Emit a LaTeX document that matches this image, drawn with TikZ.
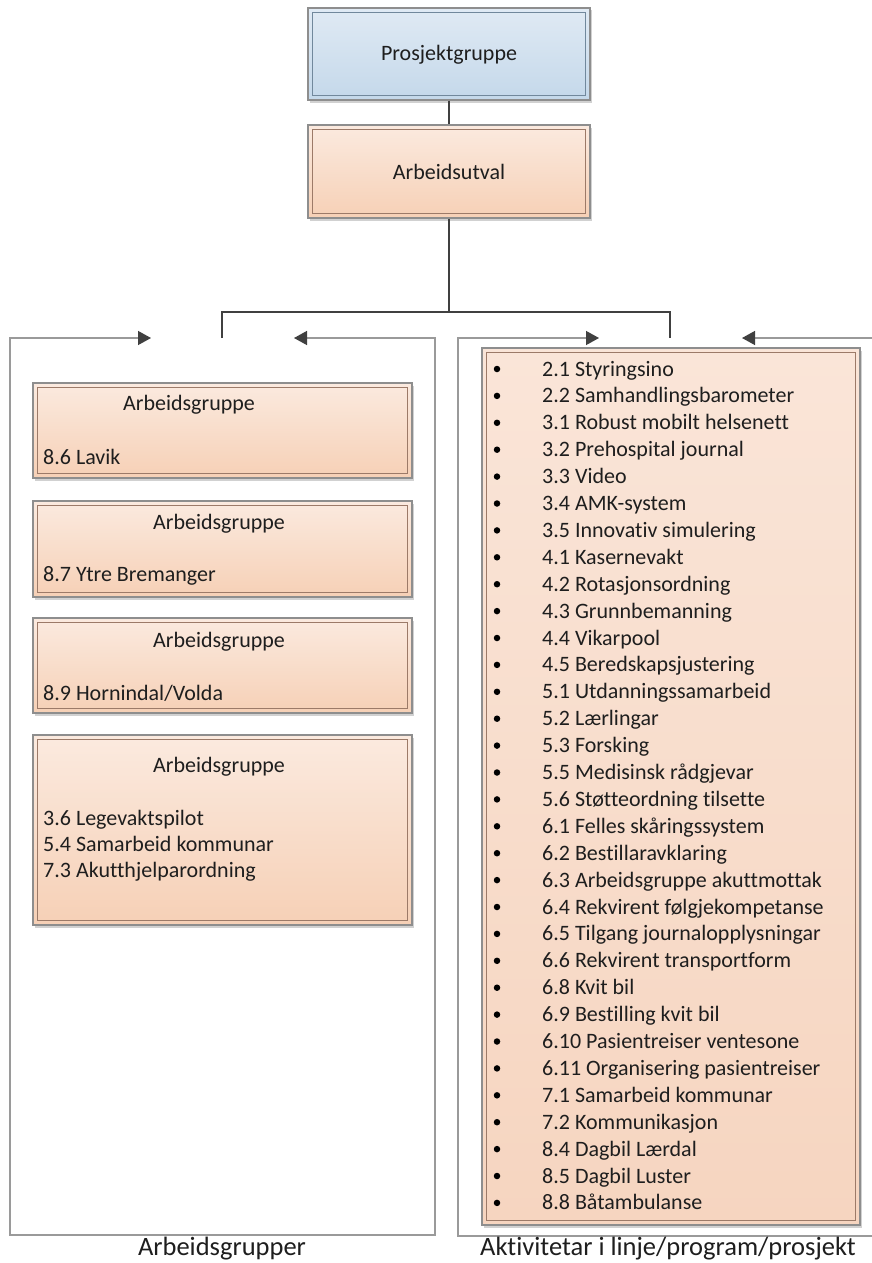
\documentclass[tikz,border=0pt]{standalone}
\usepackage{fontspec}
\setmainfont[Ligatures=NoCommon]{Carlito}
\usetikzlibrary{arrows.meta,shadows}
\definecolor{textc}{HTML}{1E1E1E}
\definecolor{connc}{HTML}{404040}
\definecolor{framec}{HTML}{9A9A9A}
\definecolor{outerc}{HTML}{8E8E8E}
\definecolor{peachtop}{HTML}{FBEADF}
\definecolor{peachbot}{HTML}{F6D0B6}
\definecolor{peachin}{HTML}{9C7A68}
\definecolor{listtop}{HTML}{FAE5D8}
\definecolor{listbot}{HTML}{F6D5C0}
\definecolor{bluetop}{HTML}{E0EAF4}
\definecolor{bluebot}{HTML}{C4D8EA}
\definecolor{bluein}{HTML}{71889C}
\begin{document}
\begin{tikzpicture}[x=1pt,y=-1pt,
  txt/.style={font=\fontsize{22}{27}\selectfont, text=textc, inner sep=0pt},
  bigtxt/.style={font=\fontsize{26.5}{32}\selectfont, text=textc, inner sep=0pt},
  boxbase/.style={rectangle, draw=outerc, line width=1.3pt, inner sep=0pt,
    general shadow={fill=black!18, shadow xshift=2pt, shadow yshift=-2.5pt}},
  peachbox/.style={boxbase, top color=peachtop, bottom color=peachbot,
    path picture={\draw[peachin, line width=1.1pt]
      ([shift={(4.5pt,-4.5pt)}]path picture bounding box.north west) rectangle
      ([shift={(-4.5pt,4.5pt)}]path picture bounding box.south east);}},
  listbox/.style={boxbase, top color=listtop, bottom color=listbot,
    path picture={\draw[peachin, line width=1.1pt]
      ([shift={(4.5pt,-4.5pt)}]path picture bounding box.north west) rectangle
      ([shift={(-4.5pt,4.5pt)}]path picture bounding box.south east);}},
  bluebox/.style={boxbase, top color=bluetop, bottom color=bluebot,
    path picture={\draw[bluein, line width=1.1pt]
      ([shift={(4.5pt,-4.5pt)}]path picture bounding box.north west) rectangle
      ([shift={(-4.5pt,4.5pt)}]path picture bounding box.south east);}},
  conn/.style={draw=connc, line width=2.2pt},
  frame/.style={draw=framec, line width=1.4pt},
  dot/.style={circle, fill=black, inner sep=0pt, minimum size=6.5pt}
]
\useasboundingbox (0,0) rectangle (872,1263);
\fill[white] (0,0) rectangle (872,1263);

% top boxes
\node[bluebox, minimum width=282pt, minimum height=92pt] (pg) at (449,54) {};
\node[txt, anchor=base] (pgt) at (449,61) {Prosjektgruppe};
\node[peachbox, minimum width=282pt, minimum height=93pt] (au) at (449,171.5) {};
\node[txt, anchor=base] (aut) at (449,179) {Arbeidsutval};

% connectors
\coordinate (j) at (449,312);
\coordinate (jl) at (222,312);
\coordinate (jr) at (670,312);
\coordinate (dl) at (222,338);
\coordinate (dr) at (670,338);
\draw[conn] (pg.south) -- (au.north);
\draw[conn] (au.south) -- (j);
\draw[conn, line join=miter] (dl) -- (jl) -- (jr) -- (dr);

% panel frames
\draw[frame, {Triangle[length=13pt,width=14pt,color=connc,fill=connc]}-{Triangle[length=13pt,width=14pt,color=connc,fill=connc]}]
  (151,338) -- (10,338) -- (10,1235) -- (435,1235) -- (435,338) -- (294,338);
\draw[frame, {Triangle[length=13pt,width=14pt,color=connc,fill=connc]}-]
  (599,338) -- (458,338) -- (458,1236) -- (875,1236);
\draw[frame, {Triangle[length=13pt,width=14pt,color=connc,fill=connc]}-]
  (742,338) -- (875,338);

% left working groups
\node[peachbox, minimum width=379pt, minimum height=95pt] (g1) at (222.5,430.5) {};
\node[txt, anchor=base] (g1t) at (189,410) {Arbeidsgruppe};
\node[txt, anchor=base west] (g1a) at (43,464) {8.6 Lavik};

\node[peachbox, minimum width=379pt, minimum height=96pt] (g2) at (222.5,549) {};
\node[txt, anchor=base] (g2t) at (219,529) {Arbeidsgruppe};
\node[txt, anchor=base west] (g2a) at (43,581) {8.7 Ytre Bremanger};

\node[peachbox, minimum width=379pt, minimum height=95pt] (g3) at (222.5,665.5) {};
\node[txt, anchor=base] (g3t) at (219,647) {Arbeidsgruppe};
\node[txt, anchor=base west] (g3a) at (43,700) {8.9 Hornindal/Volda};

\node[peachbox, minimum width=379pt, minimum height=190pt] (g4) at (222.5,830) {};
\node[txt, anchor=base] (g4t) at (219,772) {Arbeidsgruppe};
\node[txt, anchor=base west] (g4a) at (43,825) {3.6 Legevaktspilot};
\node[txt, anchor=base west] (g4b) at (43,851) {5.4 Samarbeid kommunar};
\node[txt, anchor=base west] (g4c) at (43,877) {7.3 Akutthjelparordning};

% right list
\node[listbox, minimum width=378pt, minimum height=877pt] (lst) at (671,786.5) {};
\foreach \t [count=\i] in {2.1 Styringsino, 2.2 Samhandlingsbarometer, 3.1 Robust mobilt helsenett,
  3.2 Prehospital journal, 3.3 Video, 3.4 AMK-system, 3.5 Innovativ simulering, 4.1 Kasernevakt,
  4.2 Rotasjonsordning, 4.3 Grunnbemanning, 4.4 Vikarpool, 4.5 Beredskapsjustering,
  5.1 Utdanningssamarbeid, 5.2 Lærlingar, 5.3 Forsking, 5.5 Medisinsk rådgjevar,
  5.6 Støtteordning tilsette, 6.1 Felles skåringssystem, 6.2 Bestillaravklaring,
  6.3 Arbeidsgruppe akuttmottak, 6.4 Rekvirent følgjekompetanse, 6.5 Tilgang journalopplysningar,
  6.6 Rekvirent transportform, 6.8 Kvit bil, 6.9 Bestilling kvit bil, 6.10 Pasientreiser ventesone,
  6.11 Organisering pasientreiser, 7.1 Samarbeid kommunar, 7.2 Kommunikasjon, 8.4 Dagbil Lærdal,
  8.5 Dagbil Luster, 8.8 Båtambulanse}
{
  \node[dot] (b\i) at (497,{369+26.9*(\i-1)}) {};
  \node[txt, anchor=base west] (t\i) at (542,{376+26.9*(\i-1)}) {\t};
}

% bottom labels
\node[bigtxt, anchor=base] (lbl1) at (222,1255) {Arbeidsgrupper};
\node[bigtxt, anchor=base] (lbl2) at (668,1255) {Aktivitetar i linje/program/prosjekt};
\end{tikzpicture}
\end{document}
